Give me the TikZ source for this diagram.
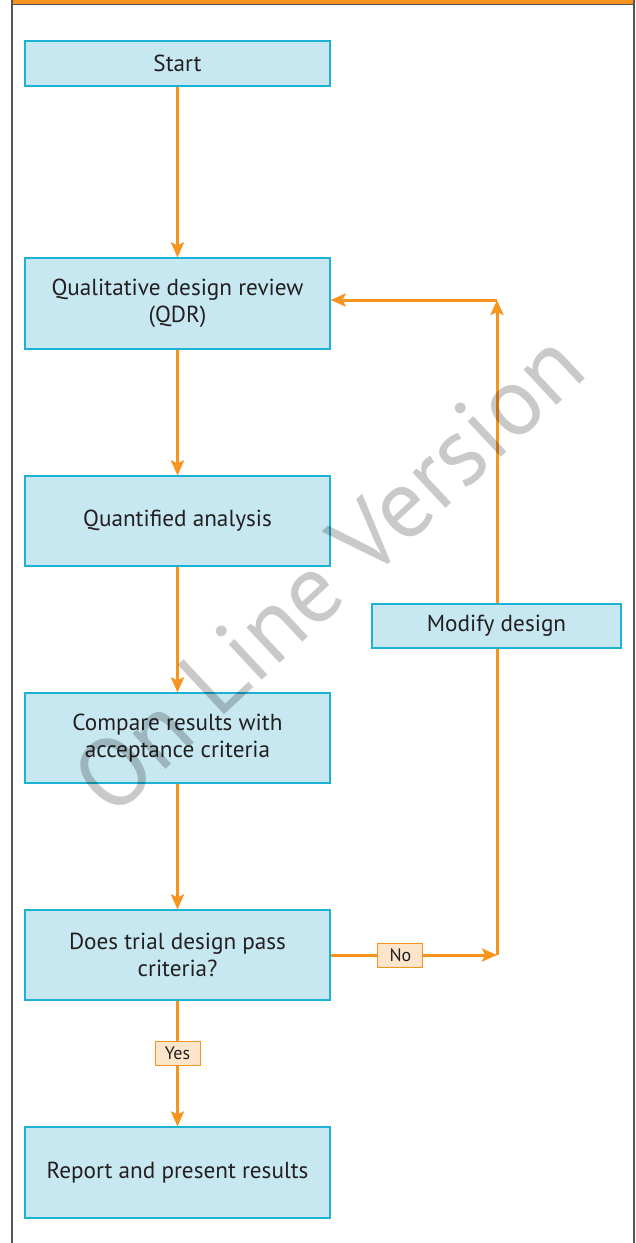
\documentclass[tikz,border=0pt]{standalone}
\usepackage{fontspec}
\setmainfont{PT Sans}
\usetikzlibrary{arrows.meta}
\definecolor{boxfill}{HTML}{C8E8F1}
\definecolor{boxline}{HTML}{1DB1D3}
\definecolor{orng}{HTML}{F7941D}
\definecolor{lblfill}{HTML}{FDE5CC}
\definecolor{txt}{HTML}{231F20}
\definecolor{framec}{HTML}{555555}
\begin{document}
\begin{tikzpicture}[x=1pt,y=-1pt,
  box/.style={draw=boxline, fill=boxfill, line width=1.2pt, minimum width=305pt, minimum height=90pt,
    text=txt, align=center, font=\fontsize{23.2}{27.5}\selectfont, inner sep=0pt},
  arr/.style={draw=orng, line width=3pt, -{Stealth[length=15pt,width=13pt,inset=3pt]}},
  lbl/.style={draw=orng, fill=lblfill, line width=1pt, text=txt, font=\fontsize{18}{20}\selectfont,
    minimum width=45pt, minimum height=24pt, inner sep=0pt},
  wm/.style={text=black, opacity=0.21, font=\fontsize{97}{105}\selectfont, inner sep=0pt}]
\useasboundingbox (0,0) rectangle (636,1243);
% frame
\fill[orng] (11.5,0) rectangle (633.5,4.5);
\draw[framec, line width=1.2pt] (11.5,4.8) -- (633.5,4.8);
\draw[framec, line width=2pt] (11.5,0) -- (11.5,1243);
\draw[framec, line width=2pt] (633.5,0) -- (633.5,1243);
% boxes
\node[box, minimum height=45pt] (start) at (177.5,63.5) {Start};
\node[box, minimum height=91pt] (qdr) at (177.5,303.5) {Qualitative design review\\(QDR)};
\node[box] (quant) at (177.5,521) {Quantified analysis};
\node[box] (comp) at (177.5,738) {Compare results with\\acceptance criteria};
\node[box] (does) at (177.5,955) {Does trial design pass\\criteria?};
\node[box, minimum height=91pt] (report) at (177.5,1172.5) {Report and present results};
\coordinate (c1) at (497,955);
\coordinate (c2) at (497,300);
% connectors
\draw[arr] (start) -- (qdr);
\draw[arr] (qdr) -- (quant);
\draw[arr] (quant) -- (comp);
\draw[arr] (comp) -- (does);
\draw[arr] (does) -- node[lbl, pos=0.42] (yes) {Yes} (report);
\draw[arr] (does.east) -- node[lbl, pos=0.42] (no) {No} (c1);
\draw[arr] (c1) -- (c2);
\draw[arr] (c2) -- (c2 -| qdr.east);
\node[box, minimum width=249pt, minimum height=44pt] (modify) at (496.5,626) {Modify design};
% watermark
\node[wm, rotate=43] (water) at (328,572) {On Line Version};
\end{tikzpicture}
\end{document}
